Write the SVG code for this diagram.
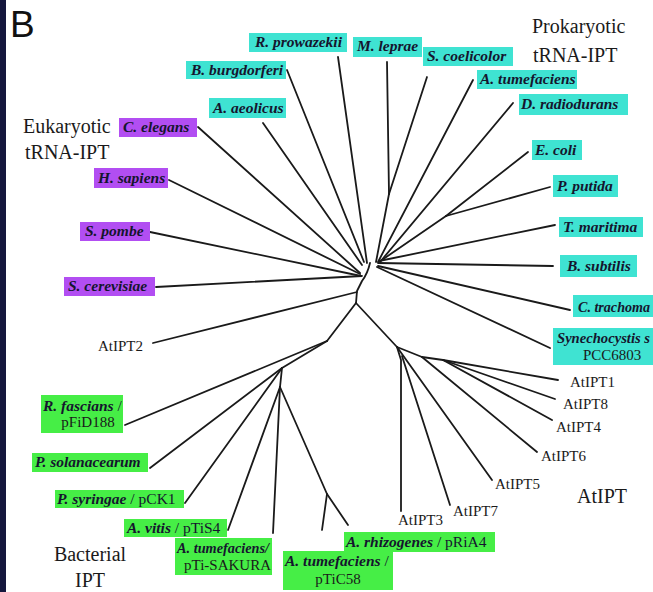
<svg xmlns="http://www.w3.org/2000/svg" width="653" height="592" viewBox="0 0 653 592">
<style>
.ln{stroke:#1a1a1a;stroke-width:1.8;fill:none;stroke-linecap:round;stroke-linejoin:round}
.cy{fill:#3fe3d2}
.pu{fill:#b24ef2}
.gr{fill:#46ee46}
.bi{font-family:"Liberation Serif","Times New Roman",serif;font-weight:bold;font-style:italic;font-size:15.5px;fill:#15152e}
.rg{font-family:"Liberation Serif","Times New Roman",serif;font-weight:normal;font-style:normal;font-size:15px;fill:#1a1a1a}
.up{font-weight:normal;font-style:normal}
.grp{font-family:"Liberation Serif","Times New Roman",serif;font-size:20px;fill:#1a1a1a}
</style>
<rect x="0" y="0" width="653" height="592" fill="#ffffff"/>
<rect x="0" y="0" width="6" height="592" fill="#15173d"/>
<text x="10" y="37" font-family="Liberation Sans, Arial, sans-serif" font-size="37" fill="#111">B</text>

<g id="connectors">
<path class="ln" d="M370,263 C368,272 365,277 362,281 L357,291 L356,303"/>
<path class="ln" d="M338,57 L367,263"/>
<path class="ln" d="M287,70 L364,262"/>
<path class="ln" d="M263,123 L362,265"/>
<path class="ln" d="M387,62 L389,194"/>
<path class="ln" d="M427,77 L389,194"/>
<path class="ln" d="M389,194 L376,262"/>
<path class="ln" d="M473,80 L378,262"/>
<path class="ln" d="M513,103 L380,262"/>
<path class="ln" d="M528,152 L446,216"/>
<path class="ln" d="M550,187 L446,216"/>
<path class="ln" d="M446,216 L379,262"/>
<path class="ln" d="M555,225 L379,261"/>
<path class="ln" d="M553,266 L378,263"/>
<path class="ln" d="M570,310 L378,266"/>
<path class="ln" d="M550,348 L377,267"/>
<path class="ln" d="M198,127 L360,273"/>
<path class="ln" d="M169,180 L360,274"/>
<path class="ln" d="M150,232 L361,276"/>
<path class="ln" d="M156,287 L362,276"/>
<path class="ln" d="M153,343 L357,292"/>
<path class="ln" d="M356,303 L327,341"/>
<path class="ln" d="M327,341 L125,425"/>
<path class="ln" d="M327,341 L282,368"/>
<path class="ln" d="M282,368 L150,468"/>
<path class="ln" d="M282,368 L185,503"/>
<path class="ln" d="M282,368 L280,387"/>
<path class="ln" d="M280,387 L228,530"/>
<path class="ln" d="M280,387 L273,533"/>
<path class="ln" d="M280,387 L327,494 L348,525"/>
<path class="ln" d="M327,494 L322,530"/>
<path class="ln" d="M356,303 L397,347"/>
<path class="ln" d="M397,347 L401,360 L401,511"/>
<path class="ln" d="M402,356 L450,505"/>
<path class="ln" d="M397,347 L492,480"/>
<path class="ln" d="M397,347 L422,357"/>
<path class="ln" d="M422,357 L537,452"/>
<path class="ln" d="M422,357 L443,360"/>
<path class="ln" d="M443,360 L558,380"/>
<path class="ln" d="M443,360 L555,399"/>
<path class="ln" d="M443,360 L552,420"/>
</g>

<g id="group-labels">
<text class="grp" x="532" y="33">Prokaryotic</text>
<text class="grp" x="533" y="62">tRNA-IPT</text>
<text class="grp" x="23" y="133">Eukaryotic</text>
<text class="grp" x="25" y="159">tRNA-IPT</text>
<text class="grp" x="90" y="561" text-anchor="middle" font-size="22">Bacterial</text>
<text class="grp" x="90" y="587" text-anchor="middle" font-size="22">IPT</text>
<text class="grp" x="577" y="503">AtIPT</text>
</g>

<g id="n-rprowazekii"><rect class="cy" x="249" y="33" width="98" height="19"/><text class="bi" x="255" y="47">R. prowazekii</text></g>
<g id="n-mleprae"><rect class="cy" x="353" y="37" width="69" height="20"/><text class="bi" x="357" y="51">M. leprae</text></g>
<g id="n-scoelicolor"><rect class="cy" x="423" y="47" width="90" height="19"/><text class="bi" x="427" y="61">S. coelicolor</text></g>
<g id="n-atumefaciens"><rect class="cy" x="477" y="70" width="100" height="19"/><text class="bi" x="480" y="84">A. tumefaciens</text></g>
<g id="n-dradiodurans"><rect class="cy" x="519" y="94" width="109" height="21"/><text class="bi" x="521" y="109">D. radiodurans</text></g>
<g id="n-ecoli"><rect class="cy" x="532" y="140" width="50" height="20"/><text class="bi" x="535" y="155">E. coli</text></g>
<g id="n-pputida"><rect class="cy" x="553" y="175" width="65" height="22"/><text class="bi" x="557" y="191">P. putida</text></g>
<g id="n-tmaritima"><rect class="cy" x="559" y="217" width="84" height="20"/><text class="bi" x="563" y="232">T. maritima</text></g>
<g id="n-bsubtilis"><rect class="cy" x="560" y="255" width="77" height="22"/><text class="bi" x="567" y="271">B. subtilis</text></g>
<g id="n-ctrachomatis"><rect class="cy" x="573" y="295" width="80" height="22"/><text class="bi" x="578" y="312" textLength="72" lengthAdjust="spacingAndGlyphs">C. trachoma</text></g>
<g id="n-synechocystis"><rect class="cy" x="553" y="328" width="100" height="37"/><text class="bi" x="557" y="343" textLength="93" lengthAdjust="spacingAndGlyphs">Synechocystis s</text><text class="rg" x="583" y="360" font-size="15.5">PCC6803</text></g>
<g id="n-bburgdorferi"><rect class="cy" x="186" y="61" width="100" height="18"/><text class="bi" x="191" y="75">B. burgdorferi</text></g>
<g id="n-aaeolicus"><rect class="cy" x="209" y="98" width="77" height="20"/><text class="bi" x="213" y="113">A. aeolicus</text></g>

<g id="n-celegans"><rect class="pu" x="119" y="118" width="78" height="19"/><text class="bi" x="123" y="132">C. elegans</text></g>
<g id="n-hsapiens"><rect class="pu" x="94" y="168" width="74" height="20"/><text class="bi" x="98" y="183">H. sapiens</text></g>
<g id="n-spombe"><rect class="pu" x="80" y="222" width="70" height="19"/><text class="bi" x="85" y="236">S. pombe</text></g>
<g id="n-scerevisiae"><rect class="pu" x="64" y="277" width="91" height="19"/><text class="bi" x="68" y="291">S. cerevisiae</text></g>

<g id="n-rfascians"><rect class="gr" x="41" y="395" width="82" height="38"/><text class="bi" x="43" y="411">R. fascians<tspan class="up"> /</tspan></text><text class="rg" x="88" y="427" text-anchor="middle" font-size="15.5">pFiD188</text></g>
<g id="n-psolanacearum"><rect class="gr" x="32" y="453" width="116" height="19"/><text class="bi" x="35" y="467">P. solanacearum</text></g>
<g id="n-psyringae"><rect class="gr" x="55" y="490" width="129" height="18"/><text class="bi" x="57" y="504">P. syringae<tspan class="up"> / pCK1</tspan></text></g>
<g id="n-avitis"><rect class="gr" x="124" y="519" width="103" height="18"/><text class="bi" x="127" y="533">A. vitis<tspan class="up"> / pTiS4</tspan></text></g>
<g id="n-ptisakura"><rect class="gr" x="175" y="538" width="97" height="37"/><text class="bi" x="177" y="553" font-size="14.5" textLength="92" lengthAdjust="spacingAndGlyphs">A. tumefaciens/</text><text class="rg" x="184" y="570" font-size="15">pTi-SAKURA</text></g>
<g id="n-arhizogenes"><rect class="gr" x="344" y="532" width="151" height="20"/><text class="bi" x="346" y="547">A. rhizogenes<tspan class="up"> / pRiA4</tspan></text></g>
<g id="n-ptic58"><rect class="gr" x="283" y="551" width="110" height="39"/><text class="bi" x="285" y="566">A. tumefaciens<tspan class="up"> /</tspan></text><text class="rg" x="338" y="584" text-anchor="middle" font-size="15.5">pTiC58</text></g>

<g id="n-atipt2"><text class="rg" x="98" y="351">AtIPT2</text></g>
<g id="n-atipt1"><text class="rg" x="570" y="387">AtIPT1</text></g>
<g id="n-atipt8"><text class="rg" x="563" y="409">AtIPT8</text></g>
<g id="n-atipt4"><text class="rg" x="556" y="432">AtIPT4</text></g>
<g id="n-atipt6"><text class="rg" x="541" y="461">AtIPT6</text></g>
<g id="n-atipt5"><text class="rg" x="495" y="489">AtIPT5</text></g>
<g id="n-atipt7"><text class="rg" x="453" y="516">AtIPT7</text></g>
<g id="n-atipt3"><text class="rg" x="398" y="525">AtIPT3</text></g>
</svg>
